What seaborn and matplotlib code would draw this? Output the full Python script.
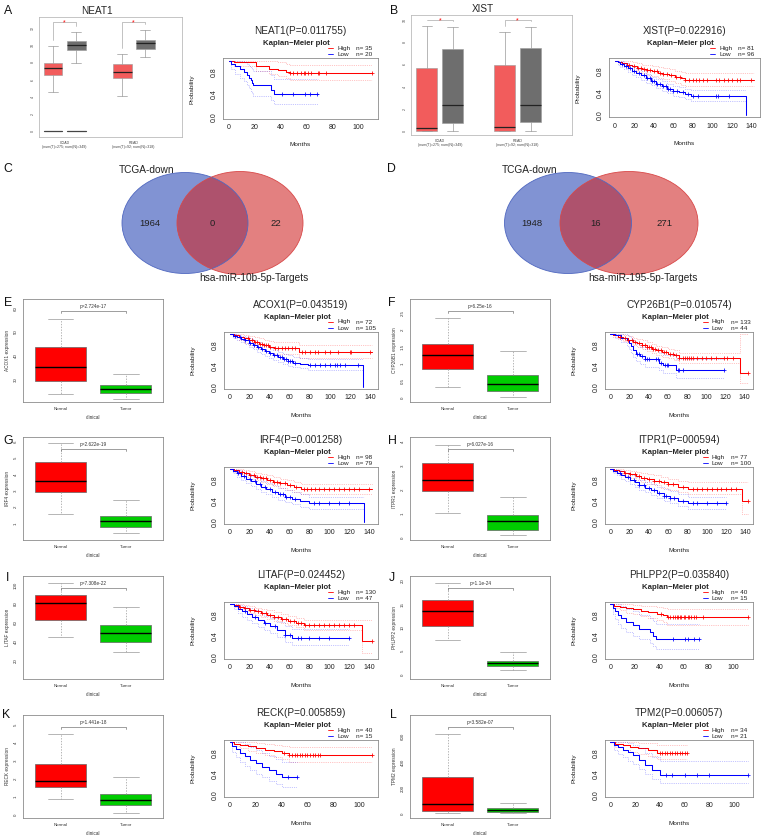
import numpy as np
import matplotlib
matplotlib.use('Agg')
import matplotlib.pyplot as plt
import seaborn as sns
from matplotlib.patches import Ellipse
from matplotlib.lines import Line2D

# ---------------- data ----------------
# GEPIA boxes: [whislo, q1, med, q3, whishi] for COAD-T, COAD-N, READ-T, READ-N
NEAT1_BOX = [[4.5, 6.5, 7.3, 7.9, 9.9], [7.9, 9.4, 10.05, 10.55, 11.5],
             [4.1, 6.2, 6.9, 7.8, 9.0], [8.6, 9.55, 10.25, 10.6, 11.8]]
XIST_BOX = [[0, 0, 0.3, 5.65, 9.45], [0, 0.75, 2.3, 7.35, 9.4],
            [0, 0, 0.33, 5.95, 8.95], [0, 0.85, 2.35, 7.45, 9.4]]
GEPIA_XLAB = ['COAD\n(num(T)=275; num(N)=349)', 'READ\n(num(T)=92; num(N)=318)']

# KM curves: times, survival, upper CI, lower CI, censor times
NEAT1_HI_T = [0, 4, 21, 31, 38, 44, 47, 111]
NEAT1_HI_S = [1, .97, .91, .86, .83, .80, .78, .78]
NEAT1_HI_U = [1, 1, 1, .99, .97, .95, .93, .93]
NEAT1_HI_L = [1, .91, .82, .76, .72, .69, .65, .65]
NEAT1_HI_C = [47, 50, 53, 56, 58, 59, 61, 64, 69, 70, 75, 111]
NEAT1_LO_T = [0, 2, 5, 9, 12, 14, 16, 17, 18, 19, 33, 35, 69]
NEAT1_LO_S = [1, .95, .90, .85, .80, .75, .70, .65, .60, .56, .48, .40, .40]
NEAT1_LO_U = [1, 1, 1, .99, .97, .94, .91, .88, .85, .82, .75, .68, .68]
NEAT1_LO_L = [1, .86, .77, .70, .63, .57, .51, .46, .42, .37, .30, .22, .22]
NEAT1_LO_C = [41, 50, 59, 63, 68]

XIST_HI_T = [0, 3, 8, 13, 18, 23, 28, 33, 38, 44, 50, 56, 62, 68, 72, 143]
XIST_HI_S = [1, .98, .96, .93, .90, .87, .85, .83, .81, .78, .76, .74, .71, .68, .65, .65]
XIST_HI_U = [1, 1, 1, .99, .97, .95, .93, .92, .90, .88, .86, .85, .82, .80, .77, .77]
XIST_HI_L = [1, .95, .92, .87, .83, .79, .77, .74, .72, .68, .66, .63, .60, .56, .53, .53]
XIST_HI_C = [15, 20, 24, 27, 30, 33, 36, 40, 43, 46, 50, 54, 58, 63, 67, 72, 76, 80, 83,
             86, 90, 95, 104, 107, 112, 116, 120, 125, 128, 140]
XIST_LO_T = [0, 3, 6, 10, 14, 18, 22, 27, 32, 37, 42, 48, 54, 60, 66, 72, 78, 134]
XIST_LO_S = [1, .97, .94, .90, .86, .82, .78, .73, .68, .63, .58, .53, .49, .45, .42, .39, .36, 0]
XIST_LO_U = [1, 1, .99, .96, .93, .89, .85, .81, .76, .71, .67, .62, .58, .54, .51, .48, .46, .46]
XIST_LO_L = [1, .93, .89, .84, .79, .74, .70, .65, .60, .55, .50, .45, .40, .36, .33, .30, .27, .27]
XIST_LO_C = [8, 12, 16, 20, 25, 30, 33, 36, 38, 40, 43, 46, 50, 53, 55, 57, 60, 64, 70, 75,
             80, 85, 104, 106, 117]

ACOX1_HI_T = [0, 4, 9, 14, 19, 24, 29, 34, 39, 44, 69, 142]
ACOX1_HI_S = [1, .98, .95, .92, .88, .85, .82, .79, .76, .73, .66, .66]
ACOX1_HI_U = [1, 1, 1, .99, .97, .94, .92, .89, .87, .85, .79, .79]
ACOX1_HI_L = [1, .94, .89, .84, .79, .75, .72, .68, .65, .62, .54, .54]
ACOX1_HI_C = [18, 22, 25, 27, 30, 32, 34, 36, 38, 40, 45, 48, 52, 55, 58, 62, 65, 72, 75,
              80, 85, 88, 95, 100, 108, 120, 121, 140]
ACOX1_LO_T = [0, 3, 7, 11, 15, 19, 23, 27, 31, 35, 39, 43, 48, 53, 58, 63, 70, 78, 133]
ACOX1_LO_S = [1, .97, .94, .91, .88, .84, .80, .76, .72, .68, .64, .60, .56, .52, .49, .46, .44, .41, 0]
ACOX1_LO_U = [1, 1, .99, .97, .95, .92, .88, .85, .81, .78, .74, .70, .66, .63, .60, .57, .55, .52, .52]
ACOX1_LO_L = [1, .93, .89, .85, .81, .76, .72, .67, .63, .59, .55, .51, .47, .43, .40, .37, .35, .32, .32]
ACOX1_LO_C = [5, 10, 15, 20, 24, 28, 32, 36, 40, 44, 47, 50, 52, 54, 56, 58, 60, 62, 65, 80,
              85, 90, 95, 100, 105, 107, 110, 115, 128]

CYP_HI_T = [0, 3, 8, 13, 18, 23, 28, 33, 38, 43, 48, 54, 60, 66, 72, 135, 143]
CYP_HI_S = [1, .98, .95, .92, .89, .86, .83, .80, .76, .72, .69, .66, .63, .60, .55, .27, .27]
CYP_HI_U = [1, 1, 1, .98, .96, .93, .91, .88, .85, .81, .78, .75, .72, .69, .65, 1, 1]
CYP_HI_L = [1, .95, .91, .87, .83, .80, .76, .72, .68, .64, .60, .57, .54, .51, .46, .07, .07]
CYP_HI_C = [10, 15, 18, 22, 26, 30, 33, 36, 38, 40, 42, 44, 46, 50, 53, 56, 58, 62, 65, 68,
            72, 76, 78, 80, 82, 84, 86, 90, 95, 100, 105, 110, 118, 122, 128, 143]
CYP_LO_T = [0, 5, 11, 17, 19, 21, 24, 27, 31, 36, 51, 55, 68, 118]
CYP_LO_S = [1, .98, .93, .88, .83, .77, .70, .63, .58, .53, .46, .41, .32, .32]
CYP_LO_U = [1, 1, 1, .99, .96, .92, .87, .81, .76, .72, .65, .61, .52, .52]
CYP_LO_L = [1, .93, .85, .77, .71, .64, .56, .49, .44, .38, .32, .27, .16, .16]
CYP_LO_C = [28, 30, 33, 36, 38, 40, 48, 50, 53, 57, 59, 60, 70, 72, 76, 118]

IRF4_HI_T = [0, 4, 9, 14, 19, 25, 31, 37, 43, 50, 57, 64, 72, 143]
IRF4_HI_S = [1, .98, .95, .92, .89, .86, .83, .80, .76, .73, .70, .66, .62, .62]
IRF4_HI_U = [1, 1, 1, .98, .96, .93, .91, .88, .85, .82, .79, .76, .72, .72]
IRF4_HI_L = [1, .94, .90, .86, .82, .79, .75, .72, .68, .64, .61, .57, .52, .52]
IRF4_HI_C = [12, 16, 20, 24, 27, 30, 33, 36, 40, 44, 47, 50, 55, 60, 66, 75, 78, 82, 86,
             90, 95, 100, 105, 110, 115, 120, 125, 130, 140]
IRF4_LO_T = [0, 3, 7, 11, 16, 21, 26, 31, 36, 42, 48, 55, 62, 70, 80, 135]
IRF4_LO_S = [1, .96, .92, .87, .82, .77, .72, .67, .62, .57, .52, .47, .43, .39, .35, 0]
IRF4_LO_U = [1, 1, .98, .95, .91, .87, .83, .78, .74, .69, .64, .60, .56, .52, .48, .48]
IRF4_LO_L = [1, .92, .86, .80, .74, .68, .62, .57, .52, .47, .42, .37, .33, .29, .25, .25]
IRF4_LO_C = [8, 14, 20, 25, 30, 35, 40, 45, 50, 53, 56, 60, 65, 85, 90, 100, 110, 120]

ITPR1_HI_T = [0, 4, 9, 14, 20, 26, 32, 38, 45, 52, 60, 70, 80, 136, 142]
ITPR1_HI_S = [1, .98, .96, .93, .90, .87, .84, .81, .78, .75, .71, .67, .63, .40, .40]
ITPR1_HI_U = [1, 1, 1, .99, .97, .95, .93, .90, .88, .85, .82, .78, .75, .75, .75]
ITPR1_HI_L = [1, .94, .91, .87, .83, .79, .76, .72, .69, .65, .61, .56, .52, .15, .15]
ITPR1_HI_C = [15, 20, 25, 30, 35, 40, 45, 50, 55, 60, 65, 75, 85, 90, 95, 100, 105, 110,
              115, 120, 125, 130, 142]
ITPR1_LO_T = [0, 3, 7, 11, 15, 20, 25, 30, 36, 42, 48, 55, 62, 70, 80, 120]
ITPR1_LO_S = [1, .97, .93, .89, .85, .80, .75, .70, .65, .60, .55, .50, .45, .40, .35, .35]
ITPR1_LO_U = [1, 1, .99, .96, .93, .89, .85, .80, .76, .71, .67, .62, .58, .53, .48, .48]
ITPR1_LO_L = [1, .93, .88, .82, .77, .72, .66, .61, .56, .51, .45, .40, .35, .30, .25, .25]
ITPR1_LO_C = [10, 18, 24, 30, 35, 40, 45, 50, 55, 58, 62, 66, 75, 85, 90, 100, 110, 120]

LITAF_HI_T = [0, 4, 9, 14, 19, 25, 31, 37, 44, 51, 58, 66, 75, 133, 143]
LITAF_HI_S = [1, .98, .95, .92, .89, .86, .83, .80, .76, .72, .68, .64, .60, .30, .30]
LITAF_HI_U = [1, 1, 1, .98, .96, .93, .91, .88, .85, .81, .78, .74, .70, .70, .70]
LITAF_HI_L = [1, .95, .91, .87, .83, .80, .76, .72, .68, .64, .60, .56, .51, .08, .08]
LITAF_HI_C = [10, 15, 20, 24, 28, 32, 36, 40, 44, 48, 52, 56, 60, 64, 68, 72, 76, 80, 85,
              90, 95, 100, 105, 110, 115, 120, 125, 143]
LITAF_LO_T = [0, 4, 8, 12, 17, 22, 28, 34, 40, 47, 55, 62, 120]
LITAF_LO_S = [1, .96, .91, .86, .81, .76, .70, .64, .58, .50, .42, .35, .35]
LITAF_LO_U = [1, 1, .99, .96, .92, .88, .83, .78, .73, .66, .59, .52, .52]
LITAF_LO_L = [1, .90, .83, .76, .70, .64, .57, .51, .45, .37, .29, .22, .22]
LITAF_LO_C = [15, 25, 35, 45, 55, 60, 68, 72, 80, 90, 100, 120]

PHL_HI_T = [0, 3, 8, 13, 18, 25, 31, 38, 43, 46, 112]
PHL_HI_S = [1, .97, .95, .92, .90, .87, .85, .82, .79, .76, .76]
PHL_HI_U = [1, 1, 1, 1, .99, .97, .96, .94, .92, .90, .90]
PHL_HI_L = [1, .92, .88, .84, .81, .77, .74, .70, .66, .61, .61]
PHL_HI_C = [41, 47, 49, 51, 53, 54, 55, 57, 58, 60, 61, 63, 64, 66, 68, 70, 76, 112]
PHL_LO_T = [0, 2, 4, 6, 9, 13, 18, 23, 32, 35, 37, 72]
PHL_LO_S = [1, .93, .87, .80, .73, .67, .60, .53, .47, .40, .33, .33]
PHL_LO_U = [1, 1, 1, 1, .96, .91, .86, .80, .74, .68, .62, .62]
PHL_LO_L = [1, .81, .71, .62, .54, .47, .40, .33, .27, .21, .15, .15]
PHL_LO_C = [51, 61, 63, 68, 72]

RECK_HI_T = [0, 3, 8, 14, 20, 27, 34, 40, 46, 110]
RECK_HI_S = [1, .97, .95, .92, .89, .86, .83, .80, .76, .76]
RECK_HI_U = [1, 1, 1, 1, .99, .97, .95, .93, .91, .91]
RECK_HI_L = [1, .92, .88, .84, .80, .76, .72, .68, .62, .62]
RECK_HI_C = [42, 46, 48, 50, 52, 54, 56, 58, 60, 62, 64, 66, 68, 70, 110]
RECK_LO_T = [0, 2, 5, 8, 12, 16, 20, 25, 30, 36, 40, 52]
RECK_LO_S = [1, .93, .87, .80, .73, .67, .60, .53, .47, .40, .33, .33]
RECK_LO_U = [1, 1, 1, 1, .96, .91, .86, .80, .74, .68, .62, .62]
RECK_LO_L = [1, .81, .71, .62, .54, .47, .40, .33, .27, .21, .15, .15]
RECK_LO_C = [45, 52]

TPM2_HI_T = [0, 4, 10, 16, 22, 30, 38, 62]
TPM2_HI_S = [1, .97, .94, .91, .88, .85, .80, .80]
TPM2_HI_U = [1, 1, 1, 1, .99, .98, .95, .95]
TPM2_HI_L = [1, .91, .86, .82, .78, .74, .68, .68]
TPM2_HI_C = [40, 42, 44, 46, 48, 50, 52, 54, 56, 58, 60, 62]
TPM2_LO_T = [0, 3, 6, 10, 14, 18, 23, 28, 34, 40, 111]
TPM2_LO_S = [1, .95, .90, .86, .81, .76, .67, .57, .48, .38, .38]
TPM2_LO_U = [1, 1, 1, 1, .98, .95, .88, .80, .72, .64, .64]
TPM2_LO_L = [1, .86, .78, .72, .65, .59, .49, .40, .31, .22, .22]
TPM2_LO_C = [45, 50, 60, 70, 80, 111]

# R boxplots: [whislo, q1, med, q3, whishi] for Normal and Tumor
ACOX1_NT = [[23.7, 29.3, 35.2, 43.5, 55.5], [21.5, 24.4, 25.8, 27.6, 32.1]]
CYP_NT = [[0.34, 0.84, 1.26, 1.59, 2.34], [0.02, 0.21, 0.40, 0.69, 1.375]]
IRF4_NT = [[1.59, 2.94, 3.6, 4.77, 5.93], [0.43, 0.8, 1.16, 1.47, 2.45]]
ITPR1_NT = [[1.03, 1.95, 2.4, 3.1, 3.87], [0.11, 0.32, 0.69, 0.94, 1.7]]
LITAF_NT = [[45, 63, 81, 90, 102], [29, 39.5, 49, 57.7, 77]]
PHL_NT = [[7.3, 10.3, 13.5, 15.9, 19.5], [0.9, 1.8, 2.4, 2.85, 4.8]]
RECK_NT = [[0.84, 1.51, 1.85, 2.8, 4.5], [0.06, 0.50, 0.80, 1.14, 2.07]]
TPM2_NT = [[10, 23, 75, 284, 618], [5, 18, 31, 44, 83]]
BOX_P = ['p=2.724e-17', 'p=6.25e-16', 'p=2.622e-19', 'p=6.027e-16',
         'p=7.308e-22', 'p=1.1e-24', 'p=1.441e-18', 'p=3.582e-07']
BOX_GENES = ['ACOX1', 'CYP26B1', 'IRF4', 'ITPR1', 'LITAF', 'PHLPP2', 'RECK', 'TPM2']

KM_TITLES = ['ACOX1(P=0.043519)', 'CYP26B1(P=0.010574)', 'IRF4(P=0.001258)', 'ITPR1(P=000594)',
             'LITAF(P=0.024452)', 'PHLPP2(P=0.035840)', 'RECK(P=0.005859)', 'TPM2(P=0.006057)']
KM_N = [(72, 105), (133, 44), (98, 79), (77, 100), (130, 47), (40, 15), (40, 15), (34, 21)]

VENN_C_COUNTS = [1964, 0, 22]
VENN_C_SETS = ['TCGA-down', 'hsa-miR-10b-5p-Targets']
VENN_D_COUNTS = [1948, 16, 271]
VENN_D_SETS = ['TCGA-down', 'hsa-miR-195-5p-Targets']

# ---------------- drawing ----------------
sns.set_style('white')
plt.rcParams['font.family'] = ['Liberation Sans', 'DejaVu Sans']

W, H = 765, 838
fig = plt.figure(figsize=(W / 100, H / 100), dpi=100)
FRAME = '#8c8c8c'


def rect(x0, y0, x1, y1):
    return [x0 / W, 1 - y1 / H, (x1 - x0) / W, (y1 - y0) / H]


def ftext(x, y, s, **kw):
    kw.setdefault('ha', 'center')
    kw.setdefault('va', 'center')
    fig.text(x / W, 1 - y / H, s, **kw)


def style_frame(ax):
    for sp in ax.spines.values():
        sp.set_color(FRAME)
        sp.set_linewidth(0.6)
        sp.set_visible(True)


def km_plot(box, tmax, xticks, title, n, curves):
    x0, y0, x1, y1 = box
    ax = fig.add_axes(rect(*box))
    for (t, s, u, l, c), col in zip(curves, ['red', 'blue']):
        for ci in (u, l):
            sns.lineplot(x=t, y=ci, drawstyle='steps-post', color=col, lw=0.5,
                         linestyle=':', alpha=0.45, estimator=None, sort=False, ax=ax)
        sns.lineplot(x=t, y=s, drawstyle='steps-post', color=col, lw=0.75,
                     estimator=None, sort=False, ax=ax)
        idx = np.searchsorted(t, c, side='right') - 1
        ax.scatter(c, np.array(s)[idx], marker='+', s=11, color=col, lw=0.55, zorder=5)
    ax.set_xlim(-0.04 * tmax, 1.04 * tmax)
    ax.set_ylim(-0.04, 1.04)
    ax.set_xticks(xticks)
    ax.set_xticklabels([str(v) for v in xticks])
    ax.set_yticks([0, .2, .4, .6, .8, 1.0])
    ax.set_yticklabels(['0.0', '', '0.4', '', '0.8', ''], rotation=90, va='center')
    ax.tick_params(direction='out', length=2.2, width=0.5, color='#444444',
                   labelsize=5, pad=1.5, labelcolor='#222222')
    ax.set_xlabel('')
    ax.set_ylabel('')
    style_frame(ax)
    cx = (x0 + x1) / 2
    ftext(cx, y0 - 27, title, fontsize=7.2)
    ftext(cx - 4, y0 - 15, 'Kaplan\u2212Meier plot', fontsize=5.6, fontweight='bold')
    for k, (lab, num, col) in enumerate([('High', n[0], 'red'), ('Low', n[1], 'blue')]):
        yy = y0 - 10 + 6 * k
        fig.add_artist(Line2D([(x1 - 50) / W, (x1 - 45) / W], [1 - yy / H] * 2,
                              color=col, lw=0.6))
        ftext(x1 - 41, yy, lab, fontsize=4.6, ha='left', color='#222222')
        ftext(x1 - 22, yy, 'n= %d' % num, fontsize=4.6, ha='left', color='#222222')
    ftext(cx, y1 + 26, 'Months', fontsize=4.6, color='#222222')
    ftext(x0 - 31, (y0 + y1) / 2, 'Probability', fontsize=4.6, rotation=90, color='#222222')
    return ax


def r_box(box, ylim, yticks, nt, pval, gene):
    ax = fig.add_axes(rect(*box))
    stats = [dict(whislo=v[0], q1=v[1], med=v[2], q3=v[3], whishi=v[4]) for v in nt]
    bp = ax.bxp(stats, positions=[1, 2], widths=0.78, patch_artist=True, showfliers=False,
                boxprops=dict(edgecolor='#666666', lw=0.5),
                whiskerprops=dict(color='#999999', lw=0.5, linestyle=(0, (2, 2))),
                capprops=dict(color='#999999', lw=0.5),
                medianprops=dict(color='black', lw=1.0))
    for patch, col in zip(bp['boxes'], ['#FF0000', '#00CC00']):
        patch.set_facecolor(col)
    ax.set_xlim(0.42, 2.57)
    ax.set_ylim(*ylim)
    ax.set_yticks(yticks)
    ax.set_yticklabels([('%g' % v) for v in yticks], rotation=90, va='center')
    ax.set_xticks([1, 2])
    ax.set_xticklabels(['Normal', 'Tumor'])
    ax.tick_params(direction='out', length=2, width=0.4, color='#888888',
                   labelsize=3.2, pad=1.5, labelcolor='#333333')
    ax.set_xlabel('clinical', fontsize=3.4, labelpad=3, color='#333333')
    ax.set_ylabel(gene + ' expression', fontsize=3.4, labelpad=3, color='#333333')
    style_frame(ax)
    rng = ylim[1] - ylim[0]
    yb = ylim[1] - 0.115 * rng
    ax.plot([1, 1, 2, 2], [yb - 0.02 * rng, yb, yb, yb - 0.02 * rng],
            color='#777777', lw=0.5)
    ax.text(1.5, yb + 0.015 * rng, pval, ha='center', va='bottom', fontsize=3.4,
            color='#333333')
    return ax


def gepia(box, title, title_x, vals, ylim, yticks, zero_groups):
    x0, y0, x1, y1 = box
    ax = fig.add_axes(rect(*box))
    pos = [1, 2, 4, 5]
    stats = [dict(whislo=v[0], q1=v[1], med=v[2], q3=v[3], whishi=v[4]) for v in vals]
    bp = ax.bxp(stats, positions=pos, widths=0.82, patch_artist=True, showfliers=False,
                boxprops=dict(edgecolor='#9a9a9a', lw=0.4),
                whiskerprops=dict(color='#9a9a9a', lw=0.5),
                capprops=dict(color='#9a9a9a', lw=0.5),
                medianprops=dict(color='#222222', lw=0.9))
    for patch, col in zip(bp['boxes'], ['#F25C5C', '#6E6E6E', '#F25C5C', '#6E6E6E']):
        patch.set_facecolor(col)
    for p in zero_groups:
        ax.plot([pos[p] - 0.41, pos[p] + 0.41], [0, 0], color='#444444', lw=0.9)
    ax.set_xlim(0.39, 6.6)
    ax.set_ylim(*ylim)
    rng = ylim[1] - ylim[0]
    yb = ylim[1] - 0.045 * rng
    for a, b in ((0, 1), (2, 3)):
        ax.plot([pos[a], pos[a], pos[b], pos[b]],
                [vals[a][4] + 0.05 * rng, yb, yb, vals[b][4] + 0.05 * rng],
                color='#aaaaaa', lw=0.5)
        ax.text((pos[a] + pos[b]) / 2, yb, '*', color='red', fontsize=5,
                ha='center', va='center')
    ax.set_yticks(yticks)
    ax.set_yticklabels([str(v) for v in yticks], rotation=90, va='center')
    ax.set_xticks([1.5, 4.5])
    ax.set_xticklabels(GEPIA_XLAB, linespacing=1.1)
    ax.tick_params(direction='out', length=1.5, width=0.4, color='#999999',
                   labelsize=2.6, pad=1.2, labelcolor='#444444')
    style_frame(ax)
    for sp in ax.spines.values():
        sp.set_color('#bbbbbb')
    ftext(title_x, y0 - 6, title, fontsize=7.2)
    return ax


# Row A / B
gepia((39, 17, 182, 137), 'NEAT1', 97, NEAT1_BOX, (-0.7, 13.3), [0, 2, 4, 6, 8, 10, 12], [0, 1])
km_plot((223, 58.5, 378, 119), 111, [0, 20, 40, 60, 80, 100], 'NEAT1(P=0.011755)', (35, 20),
        [(NEAT1_HI_T, NEAT1_HI_S, NEAT1_HI_U, NEAT1_HI_L, NEAT1_HI_C),
         (NEAT1_LO_T, NEAT1_LO_S, NEAT1_LO_U, NEAT1_LO_L, NEAT1_LO_C)])
gepia((411, 15, 572, 135), 'XIST', 483, XIST_BOX, (-0.36, 10.45), [0, 2, 4, 6, 8, 10], [])
km_plot((609, 58.5, 760, 117.5), 143, [0, 20, 40, 60, 80, 100, 120, 140], 'XIST(P=0.022916)',
        (81, 96),
        [(XIST_HI_T, XIST_HI_S, XIST_HI_U, XIST_HI_L, XIST_HI_C),
         (XIST_LO_T, XIST_LO_S, XIST_LO_U, XIST_LO_L, XIST_LO_C)])

# Rows E-L
BOX_TOPS = [299, 437, 576, 715]
KM_TOPS = [332, 467, 602, 740]
box_ylims = [(20.4, 63.9), (-0.115, 2.91), (0.0, 6.3), (-0.1, 4.2),
             (0, 110), (-1, 21), (-0.2, 5.56), (-31, 768)]
box_ticks = [[30, 40, 50, 60], [0.0, 0.5, 1.0, 1.5, 2.0, 2.5], [1, 2, 3, 4, 5, 6],
             [0, 1, 2, 3, 4], [20, 40, 60, 80, 100], [0, 5, 10, 15, 20],
             [0, 1, 2, 3, 4, 5], [0, 200, 400, 600]]
box_nt = [ACOX1_NT, CYP_NT, IRF4_NT, ITPR1_NT, LITAF_NT, PHL_NT, RECK_NT, TPM2_NT]
km_curves = [
    [(ACOX1_HI_T, ACOX1_HI_S, ACOX1_HI_U, ACOX1_HI_L, ACOX1_HI_C),
     (ACOX1_LO_T, ACOX1_LO_S, ACOX1_LO_U, ACOX1_LO_L, ACOX1_LO_C)],
    [(CYP_HI_T, CYP_HI_S, CYP_HI_U, CYP_HI_L, CYP_HI_C),
     (CYP_LO_T, CYP_LO_S, CYP_LO_U, CYP_LO_L, CYP_LO_C)],
    [(IRF4_HI_T, IRF4_HI_S, IRF4_HI_U, IRF4_HI_L, IRF4_HI_C),
     (IRF4_LO_T, IRF4_LO_S, IRF4_LO_U, IRF4_LO_L, IRF4_LO_C)],
    [(ITPR1_HI_T, ITPR1_HI_S, ITPR1_HI_U, ITPR1_HI_L, ITPR1_HI_C),
     (ITPR1_LO_T, ITPR1_LO_S, ITPR1_LO_U, ITPR1_LO_L, ITPR1_LO_C)],
    [(LITAF_HI_T, LITAF_HI_S, LITAF_HI_U, LITAF_HI_L, LITAF_HI_C),
     (LITAF_LO_T, LITAF_LO_S, LITAF_LO_U, LITAF_LO_L, LITAF_LO_C)],
    [(PHL_HI_T, PHL_HI_S, PHL_HI_U, PHL_HI_L, PHL_HI_C),
     (PHL_LO_T, PHL_LO_S, PHL_LO_U, PHL_LO_L, PHL_LO_C)],
    [(RECK_HI_T, RECK_HI_S, RECK_HI_U, RECK_HI_L, RECK_HI_C),
     (RECK_LO_T, RECK_LO_S, RECK_LO_U, RECK_LO_L, RECK_LO_C)],
    [(TPM2_HI_T, TPM2_HI_S, TPM2_HI_U, TPM2_HI_L, TPM2_HI_C),
     (TPM2_LO_T, TPM2_LO_S, TPM2_LO_U, TPM2_LO_L, TPM2_LO_C)],
]
km_tmax = [142, 143, 143, 142, 143, 112, 110, 111]
ticks140 = [0, 20, 40, 60, 80, 100, 120, 140]
ticks100 = [0, 20, 40, 60, 80, 100]
km_xticks = [ticks140, ticks140, ticks140, ticks140, ticks140, ticks100, ticks100, ticks100]

for i, gene in enumerate(BOX_GENES):
    row, col = divmod(i, 2)
    dx = 0 if col == 0 else 387
    bt = BOX_TOPS[row]
    r_box((23 + dx, bt, 163 + dx, bt + 103), box_ylims[i], box_ticks[i], box_nt[i],
          BOX_P[i], gene)
    kt = KM_TOPS[row]
    kx0, kx1 = (224, 378) if col == 0 else (605, 753)
    km_plot((kx0, kt, kx1, kt + 57), km_tmax[i], km_xticks[i], KM_TITLES[i], KM_N[i],
            km_curves[i])

# Venn diagrams on an overlay in pixel units
ov = fig.add_axes([0, 0, 1, 1])
ov.set_xlim(0, W)
ov.set_ylim(H, 0)
ov.axis('off')
ov.patch.set_alpha(0)
venn_geom = [(185, 126, 240, 126), (568, 127, 629, 138)]
for (cl, wl, cr, wr), counts, sets in zip(venn_geom, (VENN_C_COUNTS, VENN_D_COUNTS),
                                          (VENN_C_SETS, VENN_D_SETS)):
    cy, eh = 223, 101
    ov.add_patch(Ellipse((cl, cy), wl, eh, facecolor='#2D4BB6', alpha=0.6, lw=0))
    ov.add_patch(Ellipse((cr, cy), wr, eh + 2, facecolor='#CF2424', alpha=0.58, lw=0))
    ov.add_patch(Ellipse((cl, cy), wl, eh, facecolor='none', edgecolor='#5068C0', lw=0.6))
    ov.add_patch(Ellipse((cr, cy), wr, eh + 2, facecolor='none', edgecolor='#D84848', lw=0.6))
    left_x = (cl - wl / 2 + cr - wr / 2) / 2
    right_x = (cl + wl / 2 + cr + wr / 2) / 2
    mid_x = (cr - wr / 2 + cl + wl / 2) / 2
    for xx, v in zip([left_x, mid_x, right_x], counts):
        ov.text(xx, cy, str(v), fontsize=6.8, ha='center', va='center', color='#222222')
    ov.text(cl - 38, cy - 53, sets[0], fontsize=7.3, ha='center', va='center', color='#222222')
    ov.text(cr + 14, cy + 55, sets[1], fontsize=7.3, ha='center', va='center', color='#222222')

for lab, x, y in [('A', 8, 11), ('B', 394, 11), ('C', 8, 169), ('D', 391, 169),
                  ('E', 8, 303), ('F', 392, 303), ('G', 8, 441), ('H', 392, 441),
                  ('I', 8, 578), ('J', 392, 578), ('K', 6, 715), ('L', 393, 715)]:
    ov.text(x, y, lab, fontsize=8.8, ha='center', va='center', color='#111111')

fig.savefig('out.png', dpi=100)
